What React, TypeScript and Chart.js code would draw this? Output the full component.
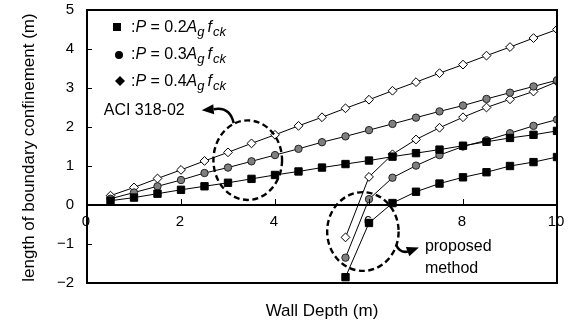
import React, { useEffect, useRef } from 'react';
import { Chart, registerables } from 'chart.js';

Chart.register(...registerables);

// ---- data ----
const xAci = [0.5, 1, 1.5, 2, 2.5, 3, 3.5, 4, 4.5, 5, 5.5, 6, 6.5, 7, 7.5, 8, 8.5, 9, 9.5, 10];
const aci02 = [0.11, 0.19, 0.29, 0.39, 0.48, 0.57, 0.67, 0.77, 0.86, 0.96, 1.05, 1.14, 1.24, 1.33, 1.42, 1.52, 1.62, 1.72, 1.8, 1.9];
const aci03 = [0.16, 0.32, 0.48, 0.64, 0.82, 0.96, 1.12, 1.28, 1.44, 1.61, 1.76, 1.92, 2.08, 2.24, 2.4, 2.55, 2.72, 2.88, 3.04, 3.2];
const aci04 = [0.24, 0.45, 0.68, 0.9, 1.13, 1.35, 1.58, 1.8, 2.03, 2.25, 2.48, 2.7, 2.93, 3.15, 3.38, 3.6, 3.83, 4.05, 4.28, 4.5];

const xProp = [5.5, 6, 6.5, 7, 7.5, 8, 8.5, 9, 9.5, 10];
const prop02 = [-1.85, -0.46, 0.05, 0.34, 0.55, 0.71, 0.84, 1.0, 1.1, 1.23];
const prop03 = [-1.35, 0.15, 0.7, 1.01, 1.28, 1.5, 1.66, 1.84, 2.03, 2.19];
const prop04 = [-0.83, 0.72, 1.3, 1.68, 1.98, 2.25, 2.5, 2.71, 2.91, 3.16];

const xTicks = [0, 2, 4, 6, 8, 10];
const yTicks = [-2, -1, 0, 1, 2, 3, 4, 5];
const legendLoads = ['0.2', '0.3', '0.4'];
const xTitle = 'Wall Depth (m)';
const yTitle = 'length of boundary confinement (m)';
const aciLabel = 'ACI 318-02';
const propLabel = ['proposed', 'method'];

const FONT = "'Liberation Sans', Arial, Helvetica, sans-serif";

const sq = { pointStyle: 'rect', pointRadius: 5.2, pointHoverRadius: 5.2, pointBackgroundColor: '#000', pointBorderColor: '#000', pointBorderWidth: 1 };
const ci = { pointStyle: 'circle', pointRadius: 3.7, pointHoverRadius: 3.7, pointBackgroundColor: '#7f7f7f', pointBorderColor: '#222', pointBorderWidth: 1 };
const di = { pointStyle: 'rectRot', pointRadius: 4.4, pointHoverRadius: 4.4, pointBackgroundColor: '#fff', pointBorderColor: '#000', pointBorderWidth: 1 };

function mk(label: string, xs: number[], ys: number[], style: any) {
  return {
    label,
    data: xs.map((x, i) => ({ x, y: ys[i] })),
    showLine: true,
    borderColor: '#000',
    borderWidth: 1,
    fill: false,
    tension: 0,
    ...style,
  };
}

const frameAxis = (extra: any) => ({
  type: 'linear',
  display: true,
  grid: { display: false, drawTicks: false },
  ticks: { display: false },
  border: { display: true, color: '#000', width: 2 },
  ...extra,
});

const decor = {
  id: 'decor',
  beforeDatasetsDraw(chart: any) {
    const ctx = chart.ctx;
    const x = chart.scales.x, y = chart.scales.y;
    ctx.save();
    const y0 = Math.round(y.getPixelForValue(0));
    ctx.font = `15px ${FONT}`;
    ctx.fillStyle = '#000';
    ctx.textAlign = 'center';
    ctx.textBaseline = 'alphabetic';
    xTicks.forEach((v) => ctx.fillText(String(v), x.getPixelForValue(v) - 1, y0 + 21));
    ctx.restore();
  },
  afterDatasetsDraw(chart: any) {
    const ctx = chart.ctx;
    const a = chart.chartArea;
    const x = chart.scales.x, y = chart.scales.y;
    ctx.save();
    ctx.strokeStyle = '#000';
    ctx.fillStyle = '#000';

    const arrow = (cx: number, cy: number, s: number[], c: number[], e: number[], t: number[]) => {
      ctx.setLineDash([]);
      ctx.lineWidth = 2.5;
      ctx.beginPath();
      ctx.moveTo(cx + s[0], cy + s[1]);
      ctx.quadraticCurveTo(cx + c[0], cy + c[1], cx + e[0], cy + e[1]);
      ctx.stroke();
      const tx = cx + t[0], ty = cy + t[1];
      const ex = cx + e[0], ey = cy + e[1];
      const ang = Math.atan2(ty - ey, tx - ex);
      const len = 12, w = 5;
      const bx = tx - Math.cos(ang) * len, by = ty - Math.sin(ang) * len;
      ctx.beginPath();
      ctx.moveTo(tx, ty);
      ctx.lineTo(bx - Math.sin(ang) * w, by + Math.cos(ang) * w);
      ctx.lineTo(bx + Math.sin(ang) * w, by - Math.cos(ang) * w);
      ctx.closePath();
      ctx.fill();
    };
    const ellipse = (cx: number, cy: number, rx: number, ry: number) => {
      ctx.setLineDash([6, 3.5]);
      ctx.lineWidth = 2.4;
      ctx.beginPath();
      ctx.ellipse(cx, cy, rx, ry, 0, 0, Math.PI * 2);
      ctx.stroke();
      ctx.setLineDash([]);
    };

    const c1x = x.getPixelForValue(3.42), c1y = y.getPixelForValue(1.15);
    const r1x = x.getPixelForValue(3.42 + 0.73) - c1x, r1y = c1y - y.getPixelForValue(1.15 + 1.02);
    ellipse(c1x, c1y, r1x, r1y);
    arrow(c1x, c1y, [-14, -37], [-18, -54], [-34, -51], [-46, -50]);
    ctx.font = `16px ${FONT}`;
    ctx.textAlign = 'left';
    ctx.textBaseline = 'alphabetic';
    ctx.fillText(aciLabel, c1x - 144, c1y - 45);

    const c2x = x.getPixelForValue(5.87), c2y = y.getPixelForValue(-0.68);
    const r2x = x.getPixelForValue(5.87 + 0.76) - c2x, r2y = c2y - y.getPixelForValue(-0.68 + 1.01);
    ellipse(c2x, c2y, r2x, r2y);
    arrow(c2x, c2y, [33, 13], [37, 22], [45, 20], [56, 16]);
    ctx.font = `16px ${FONT}`;
    ctx.fillText(propLabel[0], c2x + 62, c2y + 19);
    ctx.fillText(propLabel[1], c2x + 62, c2y + 41);

    const lx = a.left + 30;
    const rows = [27, 54, 81];
    legendLoads.forEach((load, i) => {
      const cy = a.top + rows[i] - 10;
      ctx.beginPath();
      if (i === 0) ctx.rect(lx - 4, cy - 4, 8, 8);
      else if (i === 1) ctx.arc(lx + 2, cy + 1, 4, 0, Math.PI * 2);
      else {
        ctx.moveTo(lx + 3, cy - 5);
        ctx.lineTo(lx + 8, cy);
        ctx.lineTo(lx + 3, cy + 5);
        ctx.lineTo(lx - 2, cy);
        ctx.closePath();
      }
      ctx.fill();
      let tx = lx + 14;
      const base = cy + 5;
      const seg = (t: string, italic: boolean, size: number, dy: number, gap = 0) => {
        ctx.font = `${italic ? 'italic ' : ''}${size}px ${FONT}`;
        ctx.fillText(t, tx, base + dy);
        tx += ctx.measureText(t).width + gap;
      };
      seg(':', false, 16, 0);
      seg('P', true, 16, 0);
      seg(' = ' + load, false, 16, 0);
      seg('A', true, 16, 0);
      seg('g', true, 13, 4, 3);
      seg('f', true, 16, 0, 1);
      seg('ck', true, 13, 4);
    });

    ctx.font = `17px ${FONT}`;
    ctx.textAlign = 'center';
    ctx.fillText(xTitle, (a.left + a.right) / 2, 316);
    ctx.save();
    ctx.translate(34, (a.top + a.bottom) / 2 + 1);
    ctx.rotate(-Math.PI / 2);
    ctx.fillText(yTitle, 0, 0);
    ctx.restore();

    ctx.restore();
  },
  afterDraw(chart: any) {
    const ctx = chart.ctx;
    const a = chart.chartArea;
    const x = chart.scales.x, y = chart.scales.y;
    ctx.save();
    ctx.fillStyle = '#000';
    const L = Math.round(a.left), T = Math.round(a.top);
    const R = Math.round(a.right), B = Math.round(a.bottom);
    const y0 = Math.round(y.getPixelForValue(0));
    ctx.fillRect(L - 1, T - 1, R - L + 2, 2);
    ctx.fillRect(L - 1, B - 1, R - L + 2, 2);
    ctx.fillRect(L - 1, T - 1, 2, B - T + 2);
    ctx.fillRect(R - 1, T - 1, 2, B - T + 2);
    ctx.fillRect(L, y0 - 1, R - L, 2);
    yTicks.forEach((v) => {
      const py = Math.round(y.getPixelForValue(v));
      ctx.fillRect(L, py, 5, 1);
    });
    xTicks.forEach((v) => {
      if (v === 0 || v === 10) return;
      const px = Math.round(x.getPixelForValue(v));
      ctx.fillRect(px, y0 - 6, 1, 6);
    });
    ctx.restore();
  },
};

export default function App() {
  const ref = useRef<HTMLCanvasElement>(null);
  useEffect(() => {
    const canvas = ref.current;
    if (!canvas) return;
    const chart = new Chart(canvas, {
      type: 'scatter',
      data: {
        datasets: [
          mk('ACI 0.2', xAci, aci02, sq),
          mk('Proposed 0.2', xProp, prop02, sq),
          mk('ACI 0.3', xAci, aci03, ci),
          mk('Proposed 0.3', xProp, prop03, ci),
          mk('ACI 0.4', xAci, aci04, di),
          mk('Proposed 0.4', xProp, prop04, di),
        ] as any,
      },
      options: {
        responsive: false,
        animation: false,
        devicePixelRatio: 1,
        layout: { padding: { left: 0, right: 13, top: 10, bottom: 42 } },
        plugins: { legend: { display: false }, tooltip: { enabled: false } },
        scales: {
          x: frameAxis({
            position: 'bottom',
            min: 0,
            max: 10,
            afterFit: (s: any) => {
              s.height = 0;
              s.paddingLeft = 0;
              s.paddingRight = 0;
            },
          }),
          x2: frameAxis({
            position: 'top',
            axis: 'x',
            min: 0,
            max: 10,
            afterFit: (s: any) => {
              s.height = 0;
              s.paddingLeft = 0;
              s.paddingRight = 0;
            },
          }),
          y2: frameAxis({
            position: 'right',
            axis: 'y',
            min: -2,
            max: 5,
            afterFit: (s: any) => {
              s.width = 0;
              s.paddingTop = 0;
              s.paddingBottom = 0;
            },
          }),
          y: {
            type: 'linear',
            position: 'left',
            min: -2,
            max: 5,
            border: { display: true, color: '#000', width: 2 },
            grid: {
              display: true,
              drawTicks: false,
              lineWidth: 1.5,
              color: (c: any) => (c.tick && c.tick.value === 0 ? '#000' : 'rgba(0,0,0,0)'),
            },
            ticks: {
              stepSize: 1,
              padding: 13,
              color: '#000',
              font: { size: 15, family: FONT },
              callback: (v: any) => String(v).replace('-', '\u2212'),
            },
            afterFit: (s: any) => {
              s.width = 87;
              s.paddingTop = 0;
              s.paddingBottom = 0;
            },
          },
        },
      } as any,
      plugins: [decor],
    });
    return () => chart.destroy();
  }, []);
  return (
    <div style={{ position: 'absolute', left: 0, top: 0, width: 570, height: 325, background: '#fff' }}>
      <canvas ref={ref} width={570} height={325} style={{ display: 'block' }} />
    </div>
  );
}
